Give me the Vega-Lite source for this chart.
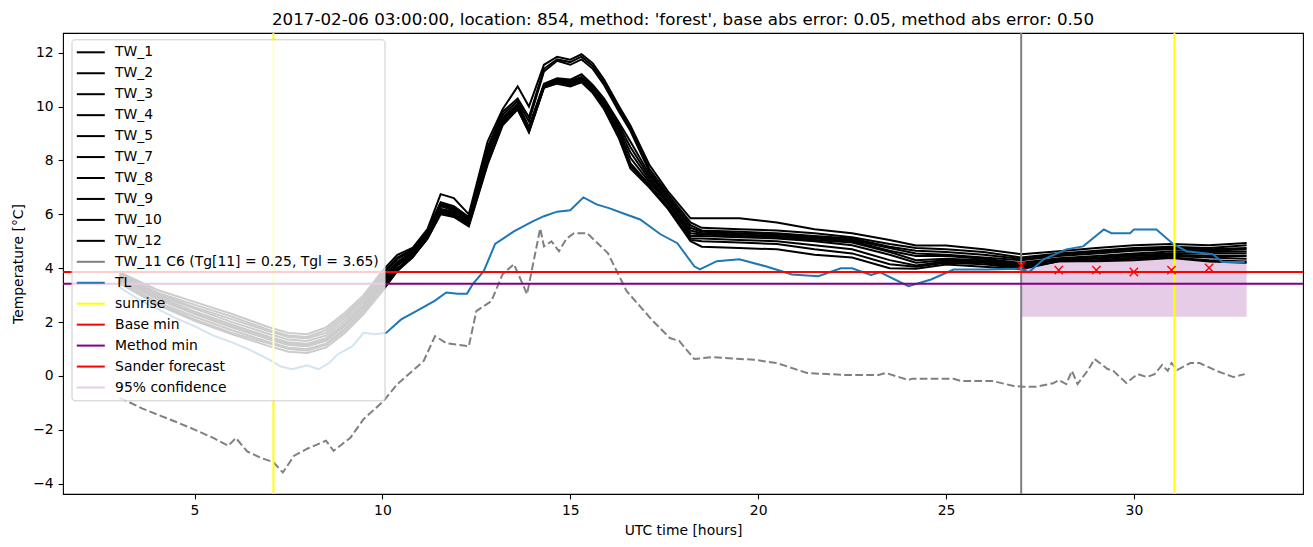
{
"$schema": "https://vega.github.io/schema/vega-lite/v6.json",
"autosize": {"type": "none"},
"width": 1240, "height": 461,
"padding": {"left": 63, "top": 33, "right": 10, "bottom": 53},
"title": {"text": "2017-02-06 03:00:00, location: 854, method: 'forest', base abs error: 0.05, method abs error: 0.50", "fontSize": 16.7, "fontWeight": "normal", "font": "DejaVu Sans", "anchor": "middle", "offset": -9.4, "baseline": "alphabetic", "color": "#000"},
"config": {
 "font": "DejaVu Sans",
 "view": {"stroke": "#000", "strokeWidth": 1.1},
 "axis": {"grid": false, "domain": false, "labelFont": "DejaVu Sans", "labelFontSize": 13.9, "labelColor": "#000", "tickColor": "#000", "tickSize": 4.9, "tickWidth": 1.1, "labelPadding": 4.9, "titleFont": "DejaVu Sans", "titleFontSize": 13.9, "titleFontWeight": "normal", "titleColor": "#000"}
},
"datasets": {
"conf": [{"s": "95% confidence", "t": 27, "t2": 33, "lo": 2.2, "hi": 4.33}],
"tw": [
{"s":"TW_3","t":3,"v":3.85},{"s":"TW_3","t":4,"v":3.2},{"s":"TW_3","t":5,"v":2.75},{"s":"TW_3","t":6,"v":2.3},{"s":"TW_3","t":7,"v":1.8},{"s":"TW_3","t":7.5,"v":1.6},{"s":"TW_3","t":8,"v":1.55},{"s":"TW_3","t":8.5,"v":1.8},{"s":"TW_3","t":9,"v":2.35},{"s":"TW_3","t":9.5,"v":3.0},{"s":"TW_3","t":10,"v":3.9},{"s":"TW_3","t":10.4,"v":4.5},{"s":"TW_3","t":10.8,"v":4.75},{"s":"TW_3","t":11.2,"v":5.45},{"s":"TW_3","t":11.55,"v":6.75},{"s":"TW_3","t":11.9,"v":6.6},{"s":"TW_3","t":12.3,"v":6.0},{"s":"TW_3","t":12.8,"v":8.7},{"s":"TW_3","t":13.2,"v":9.9},{"s":"TW_3","t":13.6,"v":10.75},{"s":"TW_3","t":13.9,"v":10.0},{"s":"TW_3","t":14.3,"v":11.55},{"s":"TW_3","t":14.65,"v":11.85},{"s":"TW_3","t":15,"v":11.74},{"s":"TW_3","t":15.3,"v":11.94},{"s":"TW_3","t":15.6,"v":11.6},{"s":"TW_3","t":15.9,"v":11.0},{"s":"TW_3","t":16.3,"v":10.0},{"s":"TW_3","t":16.6,"v":9.3},{"s":"TW_3","t":17.1,"v":7.85},{"s":"TW_3","t":17.6,"v":6.85},{"s":"TW_3","t":18.2,"v":5.85},{"s":"TW_3","t":18.5,"v":5.85},{"s":"TW_3","t":19.5,"v":5.85},{"s":"TW_3","t":20.5,"v":5.7},{"s":"TW_3","t":21.5,"v":5.45},{"s":"TW_3","t":22.5,"v":5.3},{"s":"TW_3","t":23.5,"v":5.05},{"s":"TW_3","t":24.2,"v":4.84},{"s":"TW_3","t":25,"v":4.84},{"s":"TW_3","t":26,"v":4.7},{"s":"TW_3","t":27,"v":4.52},{"s":"TW_3","t":28,"v":4.63},{"s":"TW_3","t":29,"v":4.75},{"s":"TW_3","t":30,"v":4.85},{"s":"TW_3","t":31,"v":4.9},{"s":"TW_3","t":32,"v":4.85},{"s":"TW_3","t":33,"v":4.94},
{"s":"TW_2","t":3,"v":3.8},{"s":"TW_2","t":4,"v":3.1},{"s":"TW_2","t":5,"v":2.65},{"s":"TW_2","t":6,"v":2.2},{"s":"TW_2","t":7,"v":1.7},{"s":"TW_2","t":7.5,"v":1.5},{"s":"TW_2","t":8,"v":1.45},{"s":"TW_2","t":8.5,"v":1.7},{"s":"TW_2","t":9,"v":2.25},{"s":"TW_2","t":9.5,"v":2.9},{"s":"TW_2","t":10,"v":3.8},{"s":"TW_2","t":10.4,"v":4.4},{"s":"TW_2","t":10.8,"v":4.7},{"s":"TW_2","t":11.2,"v":5.4},{"s":"TW_2","t":11.55,"v":6.45},{"s":"TW_2","t":11.9,"v":6.3},{"s":"TW_2","t":12.3,"v":5.9},{"s":"TW_2","t":12.8,"v":8.5},{"s":"TW_2","t":13.2,"v":9.8},{"s":"TW_2","t":13.6,"v":10.3},{"s":"TW_2","t":13.9,"v":9.6},{"s":"TW_2","t":14.3,"v":11.4},{"s":"TW_2","t":14.65,"v":11.75},{"s":"TW_2","t":15,"v":11.65},{"s":"TW_2","t":15.3,"v":11.85},{"s":"TW_2","t":15.6,"v":11.5},{"s":"TW_2","t":15.9,"v":10.9},{"s":"TW_2","t":16.3,"v":9.9},{"s":"TW_2","t":16.6,"v":9.2},{"s":"TW_2","t":17.1,"v":7.7},{"s":"TW_2","t":17.6,"v":6.75},{"s":"TW_2","t":18.2,"v":5.7},{"s":"TW_2","t":18.5,"v":5.5},{"s":"TW_2","t":19.5,"v":5.45},{"s":"TW_2","t":20.5,"v":5.4},{"s":"TW_2","t":21.5,"v":5.3},{"s":"TW_2","t":22.5,"v":5.15},{"s":"TW_2","t":23.5,"v":4.9},{"s":"TW_2","t":24.2,"v":4.75},{"s":"TW_2","t":25,"v":4.7},{"s":"TW_2","t":26,"v":4.6},{"s":"TW_2","t":27,"v":4.4},{"s":"TW_2","t":28,"v":4.55},{"s":"TW_2","t":29,"v":4.65},{"s":"TW_2","t":30,"v":4.75},{"s":"TW_2","t":31,"v":4.8},{"s":"TW_2","t":32,"v":4.75},{"s":"TW_2","t":33,"v":4.85},
{"s":"TW_1","t":3,"v":3.75},{"s":"TW_1","t":4,"v":3.05},{"s":"TW_1","t":5,"v":2.55},{"s":"TW_1","t":6,"v":2.1},{"s":"TW_1","t":7,"v":1.65},{"s":"TW_1","t":7.5,"v":1.45},{"s":"TW_1","t":8,"v":1.4},{"s":"TW_1","t":8.5,"v":1.6},{"s":"TW_1","t":9,"v":2.15},{"s":"TW_1","t":9.5,"v":2.85},{"s":"TW_1","t":10,"v":3.75},{"s":"TW_1","t":10.4,"v":4.35},{"s":"TW_1","t":10.8,"v":4.65},{"s":"TW_1","t":11.2,"v":5.35},{"s":"TW_1","t":11.55,"v":6.4},{"s":"TW_1","t":11.9,"v":6.25},{"s":"TW_1","t":12.3,"v":5.85},{"s":"TW_1","t":12.8,"v":8.4},{"s":"TW_1","t":13.2,"v":9.7},{"s":"TW_1","t":13.6,"v":10.2},{"s":"TW_1","t":13.9,"v":9.45},{"s":"TW_1","t":14.3,"v":11.3},{"s":"TW_1","t":14.65,"v":11.7},{"s":"TW_1","t":15,"v":11.55},{"s":"TW_1","t":15.3,"v":11.75},{"s":"TW_1","t":15.6,"v":11.4},{"s":"TW_1","t":15.9,"v":10.8},{"s":"TW_1","t":16.3,"v":9.8},{"s":"TW_1","t":16.6,"v":9.1},{"s":"TW_1","t":17.1,"v":7.6},{"s":"TW_1","t":17.6,"v":6.65},{"s":"TW_1","t":18.2,"v":5.6},{"s":"TW_1","t":18.5,"v":5.4},{"s":"TW_1","t":19.5,"v":5.35},{"s":"TW_1","t":20.5,"v":5.3},{"s":"TW_1","t":21.5,"v":5.2},{"s":"TW_1","t":22.5,"v":5.1},{"s":"TW_1","t":23.5,"v":4.8},{"s":"TW_1","t":24.2,"v":4.65},{"s":"TW_1","t":25,"v":4.6},{"s":"TW_1","t":26,"v":4.5},{"s":"TW_1","t":27,"v":4.35},{"s":"TW_1","t":28,"v":4.5},{"s":"TW_1","t":29,"v":4.6},{"s":"TW_1","t":30,"v":4.7},{"s":"TW_1","t":31,"v":4.75},{"s":"TW_1","t":32,"v":4.7},{"s":"TW_1","t":33,"v":4.75},
{"s":"TW_4","t":3,"v":3.7},{"s":"TW_4","t":4,"v":3.0},{"s":"TW_4","t":5,"v":2.5},{"s":"TW_4","t":6,"v":2.0},{"s":"TW_4","t":7,"v":1.55},{"s":"TW_4","t":7.5,"v":1.35},{"s":"TW_4","t":8,"v":1.3},{"s":"TW_4","t":8.5,"v":1.5},{"s":"TW_4","t":9,"v":2.05},{"s":"TW_4","t":9.5,"v":2.75},{"s":"TW_4","t":10,"v":3.65},{"s":"TW_4","t":10.4,"v":4.25},{"s":"TW_4","t":10.8,"v":4.6},{"s":"TW_4","t":11.2,"v":5.3},{"s":"TW_4","t":11.55,"v":6.35},{"s":"TW_4","t":11.9,"v":6.2},{"s":"TW_4","t":12.3,"v":5.8},{"s":"TW_4","t":12.8,"v":8.3},{"s":"TW_4","t":13.2,"v":9.6},{"s":"TW_4","t":13.6,"v":10.1},{"s":"TW_4","t":13.9,"v":9.25},{"s":"TW_4","t":14.3,"v":10.85},{"s":"TW_4","t":14.65,"v":11.05},{"s":"TW_4","t":15,"v":11.0},{"s":"TW_4","t":15.3,"v":11.2},{"s":"TW_4","t":15.6,"v":10.8},{"s":"TW_4","t":15.9,"v":10.3},{"s":"TW_4","t":16.3,"v":9.4},{"s":"TW_4","t":16.6,"v":8.7},{"s":"TW_4","t":17.1,"v":7.5},{"s":"TW_4","t":17.6,"v":6.6},{"s":"TW_4","t":18.2,"v":5.5},{"s":"TW_4","t":18.5,"v":5.35},{"s":"TW_4","t":19.5,"v":5.3},{"s":"TW_4","t":20.5,"v":5.25},{"s":"TW_4","t":21.5,"v":5.15},{"s":"TW_4","t":22.5,"v":5.05},{"s":"TW_4","t":23.5,"v":4.75},{"s":"TW_4","t":24.2,"v":4.55},{"s":"TW_4","t":25,"v":4.5},{"s":"TW_4","t":26,"v":4.4},{"s":"TW_4","t":27,"v":4.3},{"s":"TW_4","t":28,"v":4.45},{"s":"TW_4","t":29,"v":4.55},{"s":"TW_4","t":30,"v":4.65},{"s":"TW_4","t":31,"v":4.7},{"s":"TW_4","t":32,"v":4.65},{"s":"TW_4","t":33,"v":4.7},
{"s":"TW_5","t":3,"v":3.65},{"s":"TW_5","t":4,"v":2.95},{"s":"TW_5","t":5,"v":2.4},{"s":"TW_5","t":6,"v":1.9},{"s":"TW_5","t":7,"v":1.45},{"s":"TW_5","t":7.5,"v":1.25},{"s":"TW_5","t":8,"v":1.2},{"s":"TW_5","t":8.5,"v":1.4},{"s":"TW_5","t":9,"v":1.95},{"s":"TW_5","t":9.5,"v":2.65},{"s":"TW_5","t":10,"v":3.55},{"s":"TW_5","t":10.4,"v":4.2},{"s":"TW_5","t":10.8,"v":4.55},{"s":"TW_5","t":11.2,"v":5.25},{"s":"TW_5","t":11.55,"v":6.3},{"s":"TW_5","t":11.9,"v":6.15},{"s":"TW_5","t":12.3,"v":5.75},{"s":"TW_5","t":12.8,"v":8.2},{"s":"TW_5","t":13.2,"v":9.55},{"s":"TW_5","t":13.6,"v":10.05},{"s":"TW_5","t":13.9,"v":9.2},{"s":"TW_5","t":14.3,"v":10.8},{"s":"TW_5","t":14.65,"v":11.0},{"s":"TW_5","t":15,"v":10.95},{"s":"TW_5","t":15.3,"v":11.1},{"s":"TW_5","t":15.6,"v":10.75},{"s":"TW_5","t":15.9,"v":10.2},{"s":"TW_5","t":16.3,"v":9.3},{"s":"TW_5","t":16.6,"v":8.5},{"s":"TW_5","t":17.1,"v":7.4},{"s":"TW_5","t":17.6,"v":6.5},{"s":"TW_5","t":18.2,"v":5.4},{"s":"TW_5","t":18.5,"v":5.3},{"s":"TW_5","t":19.5,"v":5.25},{"s":"TW_5","t":20.5,"v":5.2},{"s":"TW_5","t":21.5,"v":5.1},{"s":"TW_5","t":22.5,"v":5.0},{"s":"TW_5","t":23.5,"v":4.65},{"s":"TW_5","t":24.2,"v":4.45},{"s":"TW_5","t":25,"v":4.45},{"s":"TW_5","t":26,"v":4.35},{"s":"TW_5","t":27,"v":4.2},{"s":"TW_5","t":28,"v":4.37},{"s":"TW_5","t":29,"v":4.45},{"s":"TW_5","t":30,"v":4.55},{"s":"TW_5","t":31,"v":4.62},{"s":"TW_5","t":32,"v":4.6},{"s":"TW_5","t":33,"v":4.62},
{"s":"TW_7","t":3,"v":3.6},{"s":"TW_7","t":4,"v":2.9},{"s":"TW_7","t":5,"v":2.35},{"s":"TW_7","t":6,"v":1.85},{"s":"TW_7","t":7,"v":1.4},{"s":"TW_7","t":7.5,"v":1.2},{"s":"TW_7","t":8,"v":1.15},{"s":"TW_7","t":8.5,"v":1.35},{"s":"TW_7","t":9,"v":1.9},{"s":"TW_7","t":9.5,"v":2.6},{"s":"TW_7","t":10,"v":3.5},{"s":"TW_7","t":10.4,"v":4.15},{"s":"TW_7","t":10.8,"v":4.5},{"s":"TW_7","t":11.2,"v":5.2},{"s":"TW_7","t":11.55,"v":6.2},{"s":"TW_7","t":11.9,"v":6.1},{"s":"TW_7","t":12.3,"v":5.7},{"s":"TW_7","t":12.8,"v":8.1},{"s":"TW_7","t":13.2,"v":9.5},{"s":"TW_7","t":13.6,"v":10.0},{"s":"TW_7","t":13.9,"v":9.15},{"s":"TW_7","t":14.3,"v":10.8},{"s":"TW_7","t":14.65,"v":11.0},{"s":"TW_7","t":15,"v":10.9},{"s":"TW_7","t":15.3,"v":11.05},{"s":"TW_7","t":15.6,"v":10.7},{"s":"TW_7","t":15.9,"v":10.15},{"s":"TW_7","t":16.3,"v":9.2},{"s":"TW_7","t":16.6,"v":8.3},{"s":"TW_7","t":17.1,"v":7.3},{"s":"TW_7","t":17.6,"v":6.45},{"s":"TW_7","t":18.2,"v":5.3},{"s":"TW_7","t":18.5,"v":5.25},{"s":"TW_7","t":19.5,"v":5.2},{"s":"TW_7","t":20.5,"v":5.15},{"s":"TW_7","t":21.5,"v":5.05},{"s":"TW_7","t":22.5,"v":4.95},{"s":"TW_7","t":23.5,"v":4.6},{"s":"TW_7","t":24.2,"v":4.3},{"s":"TW_7","t":25,"v":4.35},{"s":"TW_7","t":26,"v":4.3},{"s":"TW_7","t":27,"v":4.15},{"s":"TW_7","t":28,"v":4.33},{"s":"TW_7","t":29,"v":4.4},{"s":"TW_7","t":30,"v":4.5},{"s":"TW_7","t":31,"v":4.55},{"s":"TW_7","t":32,"v":4.55},{"s":"TW_7","t":33,"v":4.55},
{"s":"TW_8","t":3,"v":3.55},{"s":"TW_8","t":4,"v":2.85},{"s":"TW_8","t":5,"v":2.3},{"s":"TW_8","t":6,"v":1.8},{"s":"TW_8","t":7,"v":1.35},{"s":"TW_8","t":7.5,"v":1.15},{"s":"TW_8","t":8,"v":1.1},{"s":"TW_8","t":8.5,"v":1.3},{"s":"TW_8","t":9,"v":1.85},{"s":"TW_8","t":9.5,"v":2.55},{"s":"TW_8","t":10,"v":3.45},{"s":"TW_8","t":10.4,"v":4.1},{"s":"TW_8","t":10.8,"v":4.5},{"s":"TW_8","t":11.2,"v":5.2},{"s":"TW_8","t":11.55,"v":6.15},{"s":"TW_8","t":11.9,"v":6.05},{"s":"TW_8","t":12.3,"v":5.7},{"s":"TW_8","t":12.8,"v":8.0},{"s":"TW_8","t":13.2,"v":9.45},{"s":"TW_8","t":13.6,"v":10.0},{"s":"TW_8","t":13.9,"v":9.15},{"s":"TW_8","t":14.3,"v":10.75},{"s":"TW_8","t":14.65,"v":10.95},{"s":"TW_8","t":15,"v":10.9},{"s":"TW_8","t":15.3,"v":11.0},{"s":"TW_8","t":15.6,"v":10.65},{"s":"TW_8","t":15.9,"v":10.1},{"s":"TW_8","t":16.3,"v":9.1},{"s":"TW_8","t":16.6,"v":8.1},{"s":"TW_8","t":17.1,"v":7.2},{"s":"TW_8","t":17.6,"v":6.4},{"s":"TW_8","t":18.2,"v":5.2},{"s":"TW_8","t":18.5,"v":5.2},{"s":"TW_8","t":19.5,"v":5.15},{"s":"TW_8","t":20.5,"v":5.1},{"s":"TW_8","t":21.5,"v":5.0},{"s":"TW_8","t":22.5,"v":4.85},{"s":"TW_8","t":23.5,"v":4.5},{"s":"TW_8","t":24.2,"v":4.2},{"s":"TW_8","t":25,"v":4.3},{"s":"TW_8","t":26,"v":4.25},{"s":"TW_8","t":27,"v":4.1},{"s":"TW_8","t":28,"v":4.3},{"s":"TW_8","t":29,"v":4.35},{"s":"TW_8","t":30,"v":4.45},{"s":"TW_8","t":31,"v":4.5},{"s":"TW_8","t":32,"v":4.45},{"s":"TW_8","t":33,"v":4.45},
{"s":"TW_9","t":3,"v":3.5},{"s":"TW_9","t":4,"v":2.75},{"s":"TW_9","t":5,"v":2.2},{"s":"TW_9","t":6,"v":1.7},{"s":"TW_9","t":7,"v":1.25},{"s":"TW_9","t":7.5,"v":1.05},{"s":"TW_9","t":8,"v":1.0},{"s":"TW_9","t":8.5,"v":1.2},{"s":"TW_9","t":9,"v":1.75},{"s":"TW_9","t":9.5,"v":2.45},{"s":"TW_9","t":10,"v":3.35},{"s":"TW_9","t":10.4,"v":4.0},{"s":"TW_9","t":10.8,"v":4.45},{"s":"TW_9","t":11.2,"v":5.15},{"s":"TW_9","t":11.55,"v":6.1},{"s":"TW_9","t":11.9,"v":6.0},{"s":"TW_9","t":12.3,"v":5.65},{"s":"TW_9","t":12.8,"v":7.95},{"s":"TW_9","t":13.2,"v":9.4},{"s":"TW_9","t":13.6,"v":9.95},{"s":"TW_9","t":13.9,"v":9.1},{"s":"TW_9","t":14.3,"v":10.75},{"s":"TW_9","t":14.65,"v":10.95},{"s":"TW_9","t":15,"v":10.85},{"s":"TW_9","t":15.3,"v":11.0},{"s":"TW_9","t":15.6,"v":10.6},{"s":"TW_9","t":15.9,"v":10.0},{"s":"TW_9","t":16.3,"v":9.0},{"s":"TW_9","t":16.6,"v":7.9},{"s":"TW_9","t":17.1,"v":7.1},{"s":"TW_9","t":17.6,"v":6.3},{"s":"TW_9","t":18.2,"v":5.1},{"s":"TW_9","t":18.5,"v":5.1},{"s":"TW_9","t":19.5,"v":5.05},{"s":"TW_9","t":20.5,"v":5.0},{"s":"TW_9","t":21.5,"v":4.85},{"s":"TW_9","t":22.5,"v":4.7},{"s":"TW_9","t":23.5,"v":4.3},{"s":"TW_9","t":24.2,"v":4.1},{"s":"TW_9","t":25,"v":4.25},{"s":"TW_9","t":26,"v":4.2},{"s":"TW_9","t":27,"v":4.05},{"s":"TW_9","t":28,"v":4.27},{"s":"TW_9","t":29,"v":4.3},{"s":"TW_9","t":30,"v":4.4},{"s":"TW_9","t":31,"v":4.45},{"s":"TW_9","t":32,"v":4.4},{"s":"TW_9","t":33,"v":4.35},
{"s":"TW_10","t":3,"v":3.48},{"s":"TW_10","t":4,"v":2.7},{"s":"TW_10","t":5,"v":2.1},{"s":"TW_10","t":6,"v":1.6},{"s":"TW_10","t":7,"v":1.2},{"s":"TW_10","t":7.5,"v":1.0},{"s":"TW_10","t":8,"v":0.95},{"s":"TW_10","t":8.5,"v":1.15},{"s":"TW_10","t":9,"v":1.7},{"s":"TW_10","t":9.5,"v":2.4},{"s":"TW_10","t":10,"v":3.25},{"s":"TW_10","t":10.4,"v":3.95},{"s":"TW_10","t":10.8,"v":4.4},{"s":"TW_10","t":11.2,"v":5.1},{"s":"TW_10","t":11.55,"v":6.05},{"s":"TW_10","t":11.9,"v":5.95},{"s":"TW_10","t":12.3,"v":5.6},{"s":"TW_10","t":12.8,"v":7.9},{"s":"TW_10","t":13.2,"v":9.35},{"s":"TW_10","t":13.6,"v":9.9},{"s":"TW_10","t":13.9,"v":9.05},{"s":"TW_10","t":14.3,"v":10.7},{"s":"TW_10","t":14.65,"v":10.9},{"s":"TW_10","t":15,"v":10.8},{"s":"TW_10","t":15.3,"v":10.95},{"s":"TW_10","t":15.6,"v":10.55},{"s":"TW_10","t":15.9,"v":9.95},{"s":"TW_10","t":16.3,"v":8.9},{"s":"TW_10","t":16.6,"v":7.8},{"s":"TW_10","t":17.1,"v":7.05},{"s":"TW_10","t":17.6,"v":6.25},{"s":"TW_10","t":18.2,"v":5.05},{"s":"TW_10","t":18.5,"v":5.0},{"s":"TW_10","t":19.5,"v":4.95},{"s":"TW_10","t":20.5,"v":4.9},{"s":"TW_10","t":21.5,"v":4.7},{"s":"TW_10","t":22.5,"v":4.55},{"s":"TW_10","t":23.5,"v":4.15},{"s":"TW_10","t":24.2,"v":4.05},{"s":"TW_10","t":25,"v":4.2},{"s":"TW_10","t":26,"v":4.15},{"s":"TW_10","t":27,"v":4.0},{"s":"TW_10","t":28,"v":4.26},{"s":"TW_10","t":29,"v":4.28},{"s":"TW_10","t":30,"v":4.35},{"s":"TW_10","t":31,"v":4.4},{"s":"TW_10","t":32,"v":4.3},{"s":"TW_10","t":33,"v":4.25},
{"s":"TW_12","t":3,"v":3.45},{"s":"TW_12","t":4,"v":2.65},{"s":"TW_12","t":5,"v":2.05},{"s":"TW_12","t":6,"v":1.55},{"s":"TW_12","t":7,"v":1.1},{"s":"TW_12","t":7.5,"v":0.9},{"s":"TW_12","t":8,"v":0.85},{"s":"TW_12","t":8.5,"v":1.05},{"s":"TW_12","t":9,"v":1.6},{"s":"TW_12","t":9.5,"v":2.3},{"s":"TW_12","t":10,"v":3.15},{"s":"TW_12","t":10.4,"v":3.9},{"s":"TW_12","t":10.8,"v":4.4},{"s":"TW_12","t":11.2,"v":5.1},{"s":"TW_12","t":11.55,"v":6.0},{"s":"TW_12","t":11.9,"v":5.9},{"s":"TW_12","t":12.3,"v":5.55},{"s":"TW_12","t":12.8,"v":7.85},{"s":"TW_12","t":13.2,"v":9.3},{"s":"TW_12","t":13.6,"v":9.9},{"s":"TW_12","t":13.9,"v":9.05},{"s":"TW_12","t":14.3,"v":10.7},{"s":"TW_12","t":14.65,"v":10.85},{"s":"TW_12","t":15,"v":10.75},{"s":"TW_12","t":15.3,"v":10.9},{"s":"TW_12","t":15.6,"v":10.5},{"s":"TW_12","t":15.9,"v":9.9},{"s":"TW_12","t":16.3,"v":8.8},{"s":"TW_12","t":16.6,"v":7.7},{"s":"TW_12","t":17.1,"v":7.0},{"s":"TW_12","t":17.6,"v":6.2},{"s":"TW_12","t":18.2,"v":5.0},{"s":"TW_12","t":18.5,"v":4.8},{"s":"TW_12","t":19.5,"v":4.75},{"s":"TW_12","t":20.5,"v":4.7},{"s":"TW_12","t":21.5,"v":4.5},{"s":"TW_12","t":22.5,"v":4.4},{"s":"TW_12","t":23.5,"v":4.0},{"s":"TW_12","t":24.2,"v":3.98},{"s":"TW_12","t":25,"v":4.14},{"s":"TW_12","t":26,"v":4.05},{"s":"TW_12","t":27,"v":3.96},{"s":"TW_12","t":28,"v":4.26},{"s":"TW_12","t":29,"v":4.26},{"s":"TW_12","t":30,"v":4.3},{"s":"TW_12","t":31,"v":4.38},{"s":"TW_12","t":32,"v":4.25},{"s":"TW_12","t":33,"v":4.2}
],
"t11": [
{"s":"TW_11 C6 (Tg[11] = 0.25, Tgl = 3.65)","t":3,"v":-0.81},{"s":"TW_11 C6 (Tg[11] = 0.25, Tgl = 3.65)","t":3.2,"v":-0.93},{"s":"TW_11 C6 (Tg[11] = 0.25, Tgl = 3.65)","t":3.6,"v":-1.2},{"s":"TW_11 C6 (Tg[11] = 0.25, Tgl = 3.65)","t":4.1,"v":-1.48},{"s":"TW_11 C6 (Tg[11] = 0.25, Tgl = 3.65)","t":4.5,"v":-1.7},{"s":"TW_11 C6 (Tg[11] = 0.25, Tgl = 3.65)","t":4.97,"v":-1.97},{"s":"TW_11 C6 (Tg[11] = 0.25, Tgl = 3.65)","t":5.5,"v":-2.3},{"s":"TW_11 C6 (Tg[11] = 0.25, Tgl = 3.65)","t":5.9,"v":-2.59},{"s":"TW_11 C6 (Tg[11] = 0.25, Tgl = 3.65)","t":6.1,"v":-2.3},{"s":"TW_11 C6 (Tg[11] = 0.25, Tgl = 3.65)","t":6.4,"v":-2.8},{"s":"TW_11 C6 (Tg[11] = 0.25, Tgl = 3.65)","t":6.75,"v":-3.03},{"s":"TW_11 C6 (Tg[11] = 0.25, Tgl = 3.65)","t":7.1,"v":-3.2},{"s":"TW_11 C6 (Tg[11] = 0.25, Tgl = 3.65)","t":7.35,"v":-3.58},{"s":"TW_11 C6 (Tg[11] = 0.25, Tgl = 3.65)","t":7.65,"v":-2.96},{"s":"TW_11 C6 (Tg[11] = 0.25, Tgl = 3.65)","t":8.0,"v":-2.7},{"s":"TW_11 C6 (Tg[11] = 0.25, Tgl = 3.65)","t":8.5,"v":-2.4},{"s":"TW_11 C6 (Tg[11] = 0.25, Tgl = 3.65)","t":8.7,"v":-2.78},{"s":"TW_11 C6 (Tg[11] = 0.25, Tgl = 3.65)","t":9.15,"v":-2.29},{"s":"TW_11 C6 (Tg[11] = 0.25, Tgl = 3.65)","t":9.5,"v":-1.6},{"s":"TW_11 C6 (Tg[11] = 0.25, Tgl = 3.65)","t":10.03,"v":-0.93},{"s":"TW_11 C6 (Tg[11] = 0.25, Tgl = 3.65)","t":10.4,"v":-0.3},{"s":"TW_11 C6 (Tg[11] = 0.25, Tgl = 3.65)","t":10.8,"v":0.19},{"s":"TW_11 C6 (Tg[11] = 0.25, Tgl = 3.65)","t":11.1,"v":0.56},{"s":"TW_11 C6 (Tg[11] = 0.25, Tgl = 3.65)","t":11.4,"v":1.48},{"s":"TW_11 C6 (Tg[11] = 0.25, Tgl = 3.65)","t":11.7,"v":1.22},{"s":"TW_11 C6 (Tg[11] = 0.25, Tgl = 3.65)","t":12.3,"v":1.1},{"s":"TW_11 C6 (Tg[11] = 0.25, Tgl = 3.65)","t":12.5,"v":2.41},{"s":"TW_11 C6 (Tg[11] = 0.25, Tgl = 3.65)","t":12.9,"v":2.78},{"s":"TW_11 C6 (Tg[11] = 0.25, Tgl = 3.65)","t":13.2,"v":3.78},{"s":"TW_11 C6 (Tg[11] = 0.25, Tgl = 3.65)","t":13.5,"v":4.15},{"s":"TW_11 C6 (Tg[11] = 0.25, Tgl = 3.65)","t":13.85,"v":3.04},{"s":"TW_11 C6 (Tg[11] = 0.25, Tgl = 3.65)","t":14.2,"v":5.48},{"s":"TW_11 C6 (Tg[11] = 0.25, Tgl = 3.65)","t":14.3,"v":4.81},{"s":"TW_11 C6 (Tg[11] = 0.25, Tgl = 3.65)","t":14.5,"v":5.0},{"s":"TW_11 C6 (Tg[11] = 0.25, Tgl = 3.65)","t":14.7,"v":4.63},{"s":"TW_11 C6 (Tg[11] = 0.25, Tgl = 3.65)","t":14.9,"v":5.1},{"s":"TW_11 C6 (Tg[11] = 0.25, Tgl = 3.65)","t":15.1,"v":5.3},{"s":"TW_11 C6 (Tg[11] = 0.25, Tgl = 3.65)","t":15.45,"v":5.3},{"s":"TW_11 C6 (Tg[11] = 0.25, Tgl = 3.65)","t":16.0,"v":4.56},{"s":"TW_11 C6 (Tg[11] = 0.25, Tgl = 3.65)","t":16.5,"v":3.15},{"s":"TW_11 C6 (Tg[11] = 0.25, Tgl = 3.65)","t":17.2,"v":2.04},{"s":"TW_11 C6 (Tg[11] = 0.25, Tgl = 3.65)","t":17.65,"v":1.41},{"s":"TW_11 C6 (Tg[11] = 0.25, Tgl = 3.65)","t":17.9,"v":1.3},{"s":"TW_11 C6 (Tg[11] = 0.25, Tgl = 3.65)","t":18.3,"v":0.63},{"s":"TW_11 C6 (Tg[11] = 0.25, Tgl = 3.65)","t":18.8,"v":0.7},{"s":"TW_11 C6 (Tg[11] = 0.25, Tgl = 3.65)","t":19.9,"v":0.6},{"s":"TW_11 C6 (Tg[11] = 0.25, Tgl = 3.65)","t":20.5,"v":0.48},{"s":"TW_11 C6 (Tg[11] = 0.25, Tgl = 3.65)","t":21.3,"v":0.11},{"s":"TW_11 C6 (Tg[11] = 0.25, Tgl = 3.65)","t":22.3,"v":0.04},{"s":"TW_11 C6 (Tg[11] = 0.25, Tgl = 3.65)","t":23.2,"v":0.04},{"s":"TW_11 C6 (Tg[11] = 0.25, Tgl = 3.65)","t":23.4,"v":0.11},{"s":"TW_11 C6 (Tg[11] = 0.25, Tgl = 3.65)","t":24.0,"v":-0.15},{"s":"TW_11 C6 (Tg[11] = 0.25, Tgl = 3.65)","t":24.1,"v":-0.1},{"s":"TW_11 C6 (Tg[11] = 0.25, Tgl = 3.65)","t":25.2,"v":-0.1},{"s":"TW_11 C6 (Tg[11] = 0.25, Tgl = 3.65)","t":25.4,"v":-0.19},{"s":"TW_11 C6 (Tg[11] = 0.25, Tgl = 3.65)","t":26.25,"v":-0.19},{"s":"TW_11 C6 (Tg[11] = 0.25, Tgl = 3.65)","t":26.8,"v":-0.37},{"s":"TW_11 C6 (Tg[11] = 0.25, Tgl = 3.65)","t":27.05,"v":-0.4},{"s":"TW_11 C6 (Tg[11] = 0.25, Tgl = 3.65)","t":27.4,"v":-0.4},{"s":"TW_11 C6 (Tg[11] = 0.25, Tgl = 3.65)","t":27.85,"v":-0.27},{"s":"TW_11 C6 (Tg[11] = 0.25, Tgl = 3.65)","t":28.0,"v":-0.15},{"s":"TW_11 C6 (Tg[11] = 0.25, Tgl = 3.65)","t":28.2,"v":-0.3},{"s":"TW_11 C6 (Tg[11] = 0.25, Tgl = 3.65)","t":28.35,"v":0.19},{"s":"TW_11 C6 (Tg[11] = 0.25, Tgl = 3.65)","t":28.5,"v":-0.3},{"s":"TW_11 C6 (Tg[11] = 0.25, Tgl = 3.65)","t":28.8,"v":0.26},{"s":"TW_11 C6 (Tg[11] = 0.25, Tgl = 3.65)","t":28.95,"v":0.63},{"s":"TW_11 C6 (Tg[11] = 0.25, Tgl = 3.65)","t":29.3,"v":0.26},{"s":"TW_11 C6 (Tg[11] = 0.25, Tgl = 3.65)","t":29.45,"v":0.19},{"s":"TW_11 C6 (Tg[11] = 0.25, Tgl = 3.65)","t":29.8,"v":-0.26},{"s":"TW_11 C6 (Tg[11] = 0.25, Tgl = 3.65)","t":30.1,"v":0.07},{"s":"TW_11 C6 (Tg[11] = 0.25, Tgl = 3.65)","t":30.35,"v":-0.04},{"s":"TW_11 C6 (Tg[11] = 0.25, Tgl = 3.65)","t":30.55,"v":0.07},{"s":"TW_11 C6 (Tg[11] = 0.25, Tgl = 3.65)","t":30.75,"v":0.41},{"s":"TW_11 C6 (Tg[11] = 0.25, Tgl = 3.65)","t":30.9,"v":0.19},{"s":"TW_11 C6 (Tg[11] = 0.25, Tgl = 3.65)","t":31.0,"v":0.48},{"s":"TW_11 C6 (Tg[11] = 0.25, Tgl = 3.65)","t":31.15,"v":0.22},{"s":"TW_11 C6 (Tg[11] = 0.25, Tgl = 3.65)","t":31.5,"v":0.48},{"s":"TW_11 C6 (Tg[11] = 0.25, Tgl = 3.65)","t":31.75,"v":0.48},{"s":"TW_11 C6 (Tg[11] = 0.25, Tgl = 3.65)","t":32.2,"v":0.19},{"s":"TW_11 C6 (Tg[11] = 0.25, Tgl = 3.65)","t":32.65,"v":-0.04},{"s":"TW_11 C6 (Tg[11] = 0.25, Tgl = 3.65)","t":32.95,"v":0.07}
],
"tl": [
{"s":"TL","t":3,"v":3.3},{"s":"TL","t":3.5,"v":2.85},{"s":"TL","t":4,"v":2.5},{"s":"TL","t":4.5,"v":2.15},{"s":"TL","t":5,"v":1.85},{"s":"TL","t":5.5,"v":1.5},{"s":"TL","t":6,"v":1.25},{"s":"TL","t":6.5,"v":0.95},{"s":"TL","t":7,"v":0.6},{"s":"TL","t":7.3,"v":0.35},{"s":"TL","t":7.6,"v":0.25},{"s":"TL","t":8,"v":0.4},{"s":"TL","t":8.3,"v":0.25},{"s":"TL","t":8.6,"v":0.5},{"s":"TL","t":8.8,"v":0.8},{"s":"TL","t":9.2,"v":1.1},{"s":"TL","t":9.5,"v":1.6},{"s":"TL","t":9.8,"v":1.55},{"s":"TL","t":10.1,"v":1.6},{"s":"TL","t":10.5,"v":2.1},{"s":"TL","t":11.0,"v":2.48},{"s":"TL","t":11.4,"v":2.8},{"s":"TL","t":11.7,"v":3.1},{"s":"TL","t":12.0,"v":3.05},{"s":"TL","t":12.25,"v":3.05},{"s":"TL","t":12.4,"v":3.4},{"s":"TL","t":12.7,"v":3.9},{"s":"TL","t":13.0,"v":4.9},{"s":"TL","t":13.5,"v":5.37},{"s":"TL","t":14.0,"v":5.74},{"s":"TL","t":14.3,"v":5.93},{"s":"TL","t":14.65,"v":6.1},{"s":"TL","t":15.0,"v":6.15},{"s":"TL","t":15.35,"v":6.63},{"s":"TL","t":15.7,"v":6.37},{"s":"TL","t":16.05,"v":6.22},{"s":"TL","t":16.4,"v":6.04},{"s":"TL","t":16.86,"v":5.81},{"s":"TL","t":17.4,"v":5.26},{"s":"TL","t":17.85,"v":4.93},{"s":"TL","t":18.3,"v":4.07},{"s":"TL","t":18.45,"v":3.96},{"s":"TL","t":18.9,"v":4.26},{"s":"TL","t":19.5,"v":4.33},{"s":"TL","t":20.2,"v":4.07},{"s":"TL","t":20.9,"v":3.77},{"s":"TL","t":21.6,"v":3.7},{"s":"TL","t":22.2,"v":4.0},{"s":"TL","t":22.5,"v":4.0},{"s":"TL","t":23.0,"v":3.75},{"s":"TL","t":23.25,"v":3.85},{"s":"TL","t":24.0,"v":3.33},{"s":"TL","t":24.6,"v":3.58},{"s":"TL","t":25.2,"v":3.95},{"s":"TL","t":26.1,"v":3.95},{"s":"TL","t":26.97,"v":3.98},{"s":"TL","t":27.2,"v":3.85},{"s":"TL","t":27.6,"v":4.33},{"s":"TL","t":28.2,"v":4.7},{"s":"TL","t":28.65,"v":4.81},{"s":"TL","t":29.2,"v":5.44},{"s":"TL","t":29.4,"v":5.3},{"s":"TL","t":29.9,"v":5.3},{"s":"TL","t":30.0,"v":5.44},{"s":"TL","t":30.6,"v":5.44},{"s":"TL","t":31.05,"v":4.89},{"s":"TL","t":31.4,"v":4.63},{"s":"TL","t":32.1,"v":4.52},{"s":"TL","t":32.35,"v":4.23},{"s":"TL","t":32.95,"v":4.23}
],
"vl": [{"t": 27}],
"sun": [{"s": "sunrise", "t": 7.1}, {"s": "sunrise", "t": 31.08}],
"hl": [{"s": "Base min", "v": 3.86}, {"s": "Method min", "v": 3.42}],
"sander": [{"s":"Sander forecast","t":27,"v":4.1},{"s":"Sander forecast","t":28,"v":3.93},{"s":"Sander forecast","t":29,"v":3.93},{"s":"Sander forecast","t":30,"v":3.86},{"s":"Sander forecast","t":31,"v":3.93},{"s":"Sander forecast","t":32,"v":4.01}]
},
"layer": [
{
 "data": {"name": "conf"},
 "mark": {"type": "rect"},
 "encoding": {
  "x": {"field": "t", "type": "quantitative", "scale": {"domain": [1.5, 34.5], "nice": false, "zero": false}, "axis": {"title": "UTC time [hours]", "values": [5, 10, 15, 20, 25, 30], "titleX": 620, "titleY": 29, "titleBaseline": "top", "titleAlign": "center"}},
  "x2": {"field": "t2"},
  "y": {"field": "lo", "type": "quantitative", "scale": {"domain": [-4.38, 12.73], "nice": false, "zero": false}, "axis": {"title": "Temperature [°C]", "values": [-4, -2, 0, 2, 4, 6, 8, 10, 12], "titleX": -45, "titleY": 230.5, "titleAngle": -90, "titleAlign": "center", "titleBaseline": "middle"}},
  "y2": {"field": "hi"},
  "color": {"field": "s", "type": "nominal",
   "scale": {"domain": ["TW_1","TW_2","TW_3","TW_4","TW_5","TW_7","TW_8","TW_9","TW_10","TW_12","TW_11 C6 (Tg[11] = 0.25, Tgl = 3.65)","TL","sunrise","Base min","Method min","Sander forecast","95% confidence"],
             "range": ["#000000","#000000","#000000","#000000","#000000","#000000","#000000","#000000","#000000","#000000","#808080","#1f77b4","#ffff00","#ff0000","#800080","#ff0000","#e6cce6"]},
   "legend": {"title": null, "orient": "none", "legendX": 8.5, "legendY": 6.3,
     "fillColor": "rgba(255,255,255,0.8)", "strokeColor": "#cccccc", "cornerRadius": 3, "padding": 5,
     "labelFont": "DejaVu Sans", "labelFontSize": 13.9, "labelColor": "#000", "labelLimit": 400,
     "symbolSize": 196, "symbolOffset": 6.3, "labelOffset": 16.3, "rowPadding": 5.95,
     "symbolType": "M-2,0L2,0", "symbolStrokeWidth": 2}
  }
 }
},
{
 "data": {"name": "tw"},
 "mark": {"type": "line", "strokeWidth": 2},
 "encoding": {
  "x": {"field": "t", "type": "quantitative"},
  "y": {"field": "v", "type": "quantitative"},
  "color": {"field": "s", "type": "nominal"}
 }
},
{
 "data": {"name": "t11"},
 "mark": {"type": "line", "strokeWidth": 2, "strokeDash": [7.7, 3.3]},
 "encoding": {
  "x": {"field": "t", "type": "quantitative"},
  "y": {"field": "v", "type": "quantitative"},
  "color": {"field": "s", "type": "nominal"}
 }
},
{
 "data": {"name": "tl"},
 "mark": {"type": "line", "strokeWidth": 2},
 "encoding": {
  "x": {"field": "t", "type": "quantitative"},
  "y": {"field": "v", "type": "quantitative"},
  "color": {"field": "s", "type": "nominal"}
 }
},
{
 "data": {"name": "vl"},
 "mark": {"type": "rule", "strokeWidth": 2, "color": "#808080"},
 "encoding": {"x": {"field": "t", "type": "quantitative"}}
},
{
 "data": {"name": "sun"},
 "mark": {"type": "rule", "strokeWidth": 2},
 "encoding": {"x": {"field": "t", "type": "quantitative"}, "color": {"field": "s", "type": "nominal"}}
},
{
 "data": {"name": "hl"},
 "mark": {"type": "rule", "strokeWidth": 2},
 "encoding": {"y": {"field": "v", "type": "quantitative"}, "color": {"field": "s", "type": "nominal"}}
},
{
 "data": {"name": "sander"},
 "mark": {"type": "point", "shape": "M-1,-1L1,1M-1,1L1,-1", "size": 69, "filled": false, "strokeWidth": 1.4, "opacity": 1},
 "encoding": {
  "x": {"field": "t", "type": "quantitative"},
  "y": {"field": "v", "type": "quantitative"},
  "color": {"field": "s", "type": "nominal"}
 }
}
]
}
